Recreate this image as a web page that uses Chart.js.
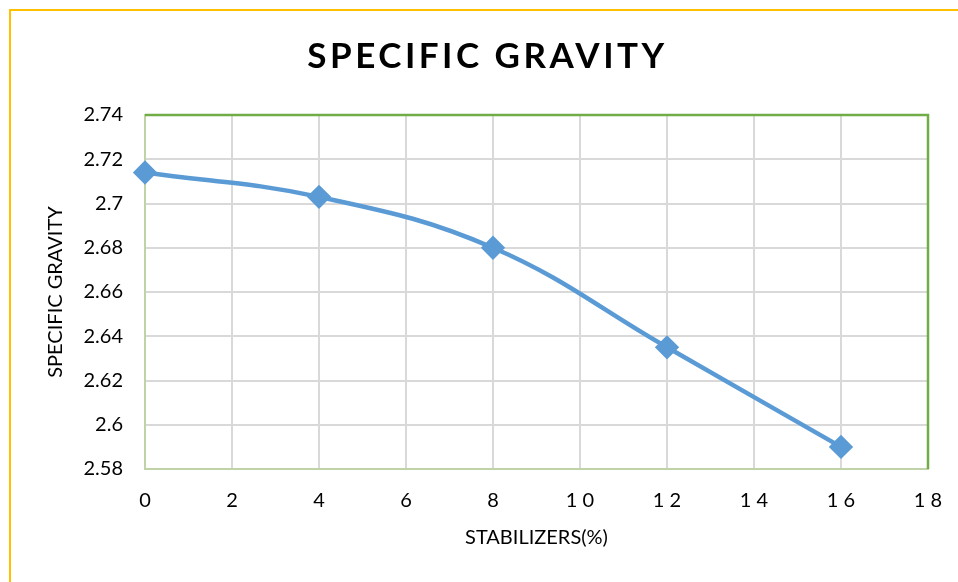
<!DOCTYPE html>
<html>
<head>
<meta charset="utf-8">
<script src="https://cdn.jsdelivr.net/npm/chart.js@4.4.1/dist/chart.umd.min.js"></script>
<style>
  html, body { margin: 0; padding: 0; background: #fff; }
  #wrap { position: relative; width: 958px; height: 582px; overflow: hidden; }
  #frame { position: absolute; left: 9px; top: 9px; width: 1000px; height: 700px;
           border-top: 2px solid #FFC000; border-left: 2px solid #FFC000; }
  #title { position: absolute; left: 0; width: 975px; top: 33px; text-align: center;
           font: bold 35px Lato, "Open Sans", sans-serif; letter-spacing: 3.5px; color: #000; }
  canvas { position: absolute; left: 0; top: 0; }
</style>
</head>
<body>
<div id="wrap">
  <div id="frame"></div>
  <canvas id="sgChart" width="958" height="582"></canvas>
  <div id="title">SPECIFIC GRAVITY</div>
</div>
<script>
// stabilizer content (%) and measured specific gravity
const stabilizers = [0, 4, 8, 12, 16];
const specificGravity = [2.714, 2.703, 2.680, 2.635, 2.590];
const xTicks = [0, 2, 4, 6, 8, 10, 12, 14, 16, 18];
const yTicks = [2.58, 2.6, 2.62, 2.64, 2.66, 2.68, 2.7, 2.72, 2.74];

const font = "Lato, 'Open Sans', sans-serif";

// green frame on top and right of the plot area
const plotFrame = {
    id: "plotFrame",
    afterDraw(chart) {
        const a = chart.chartArea;
        const ctx = chart.ctx;
        ctx.save();
        ctx.strokeStyle = "#70AD47";
        ctx.lineWidth = 2.5;
        ctx.beginPath();
        ctx.moveTo(a.left, a.top);
        ctx.lineTo(a.right, a.top);
        ctx.lineTo(a.right, a.bottom);
        ctx.stroke();
        ctx.restore();
    }
};

const ctx = document.getElementById("sgChart").getContext("2d");
new Chart(ctx, {
    type: "line",
    data: {
        datasets: [{
            label: "Specific Gravity",
            data: stabilizers.map((x, i) => ({ x: x, y: specificGravity[i] })),
            borderColor: "#5B9BD5",
            backgroundColor: "#5B9BD5",
            borderWidth: 4.5,
            tension: 0.4,
            pointStyle: "rectRot",
            pointRadius: 9,
            pointHoverRadius: 9,
            clip: false
        }]
    },
    options: {
        responsive: false,
        animation: false,
        layout: { padding: { left: 40, right: 30, top: 115, bottom: 30 } },
        plugins: { legend: { display: false }, tooltip: { enabled: false } },
        scales: {
            x: {
                type: "linear",
                min: 0, max: 18,
                afterBuildTicks: s => { s.ticks = xTicks.map(v => ({ value: v })); },
                afterFit: s => { s.height = 582 - 469 - 30; s.paddingRight = 0; s.paddingLeft = 0; },
                grid: { color: "#D9D9D9", lineWidth: 2, drawTicks: false },
                border: { color: "#BFD3A6", width: 2 },
                ticks: {
                    padding: 20,
                    color: "#000",
                    font: { family: font, size: 20 },
                    callback: v => String(v).split("").join(" ")
                },
                title: { display: true, text: "STABILIZERS(%)", color: "#000",
                         font: { family: font, size: 20 }, padding: { top: 0, bottom: 2 } }
            },
            y: {
                min: 2.58, max: 2.74,
                afterBuildTicks: s => { s.ticks = yTicks.map(v => ({ value: v })); },
                afterFit: s => { s.width = 145 - 40; },
                grid: { color: "#D9D9D9", lineWidth: 2, drawTicks: false },
                border: { color: "#BFD3A6", width: 2 },
                ticks: {
                    padding: 22,
                    color: "#000",
                    font: { family: font, size: 20 },
                    callback: v => String(+v.toFixed(2))
                },
                title: { display: true, text: "SPECIFIC GRAVITY", color: "#000",
                         font: { family: font, size: 20 }, padding: { top: 4, bottom: 0 } }
            }
        }
    },
    plugins: [plotFrame]
});
</script>
</body>
</html>
